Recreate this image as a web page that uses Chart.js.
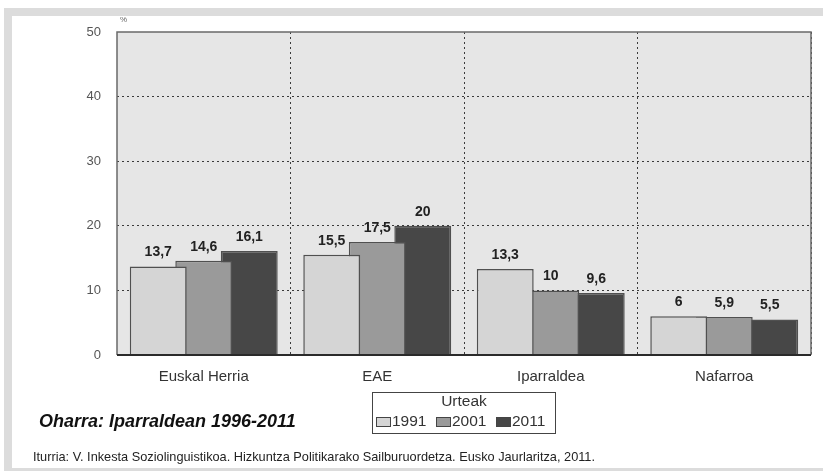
<!DOCTYPE html>
<html>
<head>
<meta charset="utf-8">
<script src="https://cdn.jsdelivr.net/npm/chart.js@4/dist/chart.umd.min.js"></script>
<style>
html,body{margin:0;padding:0;background:#fff;}
canvas{display:block;}
</style>
</head>
<body>
<canvas id="c" width="823" height="471"></canvas>
<script>
const categories = ["Euskal Herria", "EAE", "Iparraldea", "Nafarroa"];
const seriesNames = ["1991", "2001", "2011"];
const values1991 = [13.7, 15.5, 13.3, 6];
const values2001 = [14.6, 17.5, 10, 5.9];
const values2011 = [16.1, 20, 9.6, 5.5];
const yTicks = [0, 10, 20, 30, 40, 50];
const legendTitle = "Urteak";
const noteText = "Oharra: Iparraldean 1996-2011";
const sourceText = "Iturria: V. Inkesta Soziolinguistikoa. Hizkuntza Politikarako Sailburuordetza. Eusko Jaurlaritza, 2011.";
const unitText = "%";

const colors = ["#d5d5d5", "#9a9a9a", "#474747"];
const FONT = "'Liberation Sans', Arial, sans-serif";

const framePlugin = {
  id: 'frame',
  beforeDraw(chart) {
    const ctx = chart.ctx;
    const W = chart.width, H = chart.height;
    ctx.save();
    ctx.fillStyle = '#ffffff';
    ctx.fillRect(0, 0, W, H);
    ctx.fillStyle = '#dcdcdc';
    ctx.fillRect(4, 8, W - 4, H - 8);
    ctx.fillStyle = '#ffffff';
    ctx.fillRect(12, 16, W - 12, 452);
    const a = chart.chartArea;
    ctx.fillStyle = '#e6e6e6';
    ctx.fillRect(a.left, a.top, a.right - a.left, a.bottom - a.top);
    ctx.restore();
  },
  afterDatasetsDraw(chart) {
    const ctx = chart.ctx;
    const a = chart.chartArea;
    ctx.save();
    ctx.strokeStyle = '#6a6a6a';
    ctx.lineWidth = 1.5;
    ctx.beginPath();
    ctx.moveTo(a.left, a.bottom);
    ctx.lineTo(a.left, a.top);
    ctx.lineTo(a.right, a.top);
    ctx.lineTo(a.right, a.bottom);
    ctx.stroke();
    ctx.strokeStyle = '#2a2a2a';
    ctx.lineWidth = 2;
    ctx.beginPath();
    ctx.moveTo(a.left, a.bottom);
    ctx.lineTo(a.right, a.bottom);
    ctx.stroke();
    ctx.font = "bold 14px " + FONT;
    ctx.fillStyle = '#222222';
    ctx.textAlign = 'center';
    ctx.textBaseline = 'middle';
    chart.data.datasets.forEach((ds, di) => {
      const meta = chart.getDatasetMeta(di);
      meta.data.forEach((el, i) => {
        const txt = String(ds.data[i]).replace('.', ',');
        ctx.fillText(txt, el.x, el.y - 14);
      });
    });
    ctx.restore();
  },
  afterDraw(chart) {
    const ctx = chart.ctx;
    const a = chart.chartArea;
    ctx.save();
    ctx.font = "8px " + FONT;
    ctx.fillStyle = '#666';
    ctx.textAlign = 'left';
    ctx.textBaseline = 'middle';
    ctx.fillText(unitText, a.left + 3, 20);
    ctx.fillStyle = '#ffffff';
    ctx.fillRect(372.5, 392.5, 183, 41);
    ctx.strokeStyle = '#444';
    ctx.lineWidth = 1;
    ctx.strokeRect(372.5, 392.5, 183, 41);
    ctx.font = "15.5px " + FONT;
    ctx.fillStyle = '#333';
    ctx.textAlign = 'center';
    ctx.fillText(legendTitle, 464, 402);
    const xs = [376, 436, 496];
    chart.data.datasets.forEach((ds, di) => {
      ctx.fillStyle = ds.backgroundColor;
      ctx.fillRect(xs[di] + 0.5, 417.5, 14, 9);
      ctx.strokeStyle = '#444';
      ctx.strokeRect(xs[di] + 0.5, 417.5, 14, 9);
      ctx.fillStyle = '#333';
      ctx.textAlign = 'left';
      ctx.fillText(ds.label, xs[di] + 16, 422);
    });
    ctx.font = "italic bold 18px " + FONT;
    ctx.fillStyle = '#111';
    ctx.textAlign = 'left';
    ctx.fillText(noteText, 39, 422);
    ctx.font = "12.75px " + FONT;
    ctx.fillStyle = '#222';
    ctx.fillText(sourceText, 33, 457);
    ctx.restore();
  }
};

new Chart(document.getElementById('c'), {
  type: 'bar',
  data: {
    labels: categories,
    datasets: [
      { label: seriesNames[0], data: values1991, backgroundColor: colors[0] },
      { label: seriesNames[1], data: values2001, backgroundColor: colors[1] },
      { label: seriesNames[2], data: values2011, backgroundColor: colors[2] }
    ]
  },
  options: {
    responsive: false,
    animation: false,
    devicePixelRatio: 1,
    layout: { padding: { left: 0, top: 32, right: 12, bottom: 0 } },
    datasets: {
      bar: {
        barPercentage: 1.25,
        categoryPercentage: 0.787,
        borderColor: '#505050',
        borderWidth: 1.5
      }
    },
    plugins: {
      legend: { display: false },
      tooltip: { enabled: false }
    },
    scales: {
      x: {
        offset: true,
        grid: {
          offset: true,
          drawTicks: false,
          color: (c) => (c.index === 0 || c.index === categories.length) ? 'rgba(0,0,0,0)' : '#3a3a3a',
          lineWidth: 1
        },
        border: { display: false, dash: [2, 3] },
        ticks: { color: '#333', font: { family: FONT, size: 15 }, padding: 13 },
        afterFit(s) { s.height = 116; }
      },
      y: {
        min: 0,
        max: 50,
        afterBuildTicks(s) { s.ticks = yTicks.map(v => ({ value: v })); },
        grid: {
          drawTicks: false,
          color: (c) => (c.tick && (c.tick.value === 0 || c.tick.value === 50)) ? 'rgba(0,0,0,0)' : '#3a3a3a',
          lineWidth: 1
        },
        border: { display: false, dash: [2, 3] },
        ticks: { color: '#555', font: { family: FONT, size: 13 }, padding: 16 },
        afterFit(s) { s.width = 117; }
      }
    }
  },
  plugins: [framePlugin]
});
</script>
</body>
</html>
